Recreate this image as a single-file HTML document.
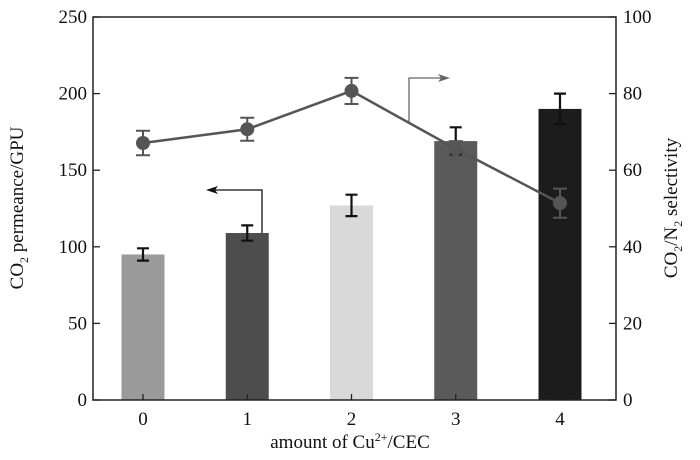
<!DOCTYPE html>
<html><head><meta charset="utf-8"><style>
body{margin:0;background:#fff}
svg{display:block;font-family:"Liberation Serif",serif}
</style></head><body>
<svg id="chart" width="700" height="460" viewBox="0 0 700 460">
<g id="bars"></g><g id="line"></g><g id="axes"></g>
</svg>
<script>
const categories=["0","1","2","3","4"];
const permeance=[95,109,127,169,190];
const permErr=[4,5,7,9,10];
const selectivity=[67.1,70.7,80.7,65.6,51.4];
const selErr=[3.2,3,3.4,2,3.8];
const leftTicks=[0,50,100,150,200,250];
const rightTicks=[0,20,40,60,80,100];
const barColors=["#9a9a9a","#4d4d4d","#d9d9d9","#5a5a5a","#1c1c1c"];
const NS="http://www.w3.org/2000/svg";
const L=93,R=616,T=17,B=400;
const x=i=>143+104.25*i;
const yL=v=>B-(B-T)*v/250;
const yR=v=>B-(B-T)*v/100;
function mk(p,tag,a,txt){const e=document.createElementNS(NS,tag);for(const k in a)e.setAttribute(k,a[k]);if(txt!==undefined)e.textContent=txt;p.appendChild(e);return e;}
const gb=document.getElementById('bars'),gl=document.getElementById('line'),ga=document.getElementById('axes');
permeance.forEach((v,i)=>{
 const r=mk(gb,'rect',{x:x(i)-21.5,y:yL(v),width:43,height:B-yL(v),fill:barColors[i]});
 
 
 const e=mk(gb,'path',{d:`M${x(i)-6},${yL(v+permErr[i])}h12M${x(i)},${yL(v+permErr[i])}V${yL(v-permErr[i])}M${x(i)-6},${yL(v-permErr[i])}h12`,stroke:'#111','stroke-width':2.2,fill:'none'});
 
 
});
const ln=mk(gl,'polyline',{points:selectivity.map((v,i)=>x(i)+','+yR(v)).join(' '),fill:'none',stroke:'#555','stroke-width':2.5});


selectivity.forEach((v,i)=>{
 const e=mk(gl,'path',{d:`M${x(i)-7},${yR(v+selErr[i])}h14M${x(i)},${yR(v+selErr[i])}V${yR(v-selErr[i])}M${x(i)-7},${yR(v-selErr[i])}h14`,stroke:'#555','stroke-width':2,fill:'none'});
 
 
 const c=mk(gl,'circle',{cx:x(i),cy:yR(v),r:7,fill:'#555'});
 
 
});
const a1=mk(ga,'path',{d:'M262,233V190H210',stroke:'#111','stroke-width':1.3,fill:'none'});


mk(ga,'path',{d:'M206,190l12,-4l-3,4l3,4z',fill:'#111'});
const a2=mk(ga,'path',{d:'M409,122V78H446',stroke:'#666','stroke-width':1.3,fill:'none'});


mk(ga,'path',{d:'M450,78l-12,-4l3,4l-3,4z',fill:'#666'});
const fr=mk(ga,'rect',{x:L,y:T,width:R-L,height:B-T,fill:'none',stroke:'#222','stroke-width':1.5});


leftTicks.forEach(t=>{
 mk(ga,'line',{x1:L,x2:L+7,y1:yL(t),y2:yL(t),stroke:'#222','stroke-width':1.3});
 const tx=mk(ga,'text',{x:L-6,y:yL(t)+6,'text-anchor':'end','font-size':19,fill:'#111'},t);
 
 
});
rightTicks.forEach(t=>{
 mk(ga,'line',{x1:R-7,x2:R,y1:yR(t),y2:yR(t),stroke:'#222','stroke-width':1.3});
 const tx=mk(ga,'text',{x:R+7,y:yR(t)+6,'text-anchor':'start','font-size':19,fill:'#111'},t);
 
 
});
categories.forEach((c,i)=>{
 mk(ga,'line',{x1:x(i),x2:x(i),y1:B-6,y2:B,stroke:'#222','stroke-width':1.3});
 const tx=mk(ga,'text',{x:x(i),y:425,'text-anchor':'middle','font-size':19,fill:'#111'},c);
 
 
});
</script>
<svg width="700" height="460" style="position:absolute;left:0;top:0" font-family="Liberation Serif, serif">
<text x="350" y="448" text-anchor="middle" font-size="19" fill="#111">amount of Cu<tspan dy="-7" font-size="12">2+</tspan><tspan dy="7">/CEC</tspan></text>
<text transform="translate(23,208) rotate(-90)" text-anchor="middle" font-size="19" fill="#111">CO<tspan dy="5" font-size="12">2</tspan><tspan dy="-5"> permeance/GPU</tspan></text>
<text transform="translate(677,208) rotate(-90)" text-anchor="middle" font-size="19" fill="#111">CO<tspan dy="5" font-size="12">2</tspan><tspan dy="-5">/N</tspan><tspan dy="5" font-size="12">2</tspan><tspan dy="-5"> selectivity</tspan></text>
</svg>
</body></html>
